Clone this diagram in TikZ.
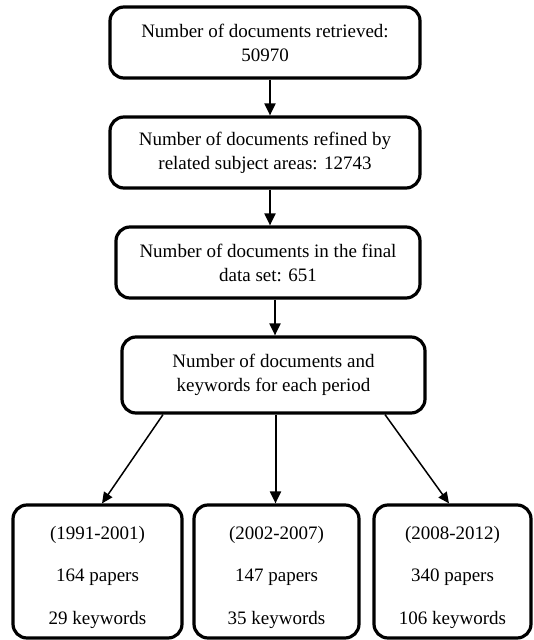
\documentclass[tikz,border=0pt]{standalone}
\usepackage{fontspec}
\setmainfont{Liberation Serif}
\usetikzlibrary{arrows.meta}
\tikzset{
  box/.style={draw=black, line width=3.2pt, rounded corners=14pt, fill=white,
    align=center, inner sep=0pt, font=\fontsize{19}{24}\selectfont},
  pbox/.style={box, minimum width=#1, minimum height=133pt,
    font=\fontsize{19}{42.5}\selectfont},
  thick arrow/.style={line width=2pt, -{Triangle[length=12pt,width=11pt]}},
  thin arrow/.style={line width=1.5pt, -{Triangle[length=11pt,width=10pt]}}
}
\begin{document}
\begin{tikzpicture}[x=1pt,y=-1pt]
\useasboundingbox (0,0) rectangle (534,640);
\node[box, minimum width=310pt, minimum height=71pt] (b1) at (265,42.5)
  {Number of documents retrieved:\\ 50970};
\node[box, minimum width=310pt, minimum height=71pt] (b2) at (265,152.5)
  {Number of documents refined by\\ related subject areas: 12743};
\node[box, minimum width=304pt, minimum height=71pt] (b3) at (268,262.5)
  {Number of documents in the final\\ data set: 651};
\node[box, minimum width=303pt, minimum height=76pt] (b4) at (273.5,375)
  {Number of documents and\\ keywords for each period};
\node[pbox=169pt] (pa) at (97.5,571.5)
  {\rule{0pt}{25pt}(1991-2001)\\ 164 papers\\ 29 keywords};
\node[pbox=165pt] (pb) at (276.5,571.5)
  {\rule{0pt}{25pt}(2002-2007)\\ 147 papers\\ 35 keywords};
\node[pbox=157pt] (pc) at (452.5,571.5)
  {\rule{0pt}{25pt}(2008-2012)\\ 340 papers\\ 106 keywords};
\draw[thick arrow] ([xshift=5pt]b1.south) -- ([xshift=5pt]b1.south |- b2.north);
\draw[thick arrow] ([xshift=5pt]b2.south) -- ([xshift=5pt]b2.south |- b3.north);
\draw[thick arrow] ([xshift=7pt]b3.south) -- ([xshift=7pt]b3.south |- b4.north);
\draw[thin arrow] ([xshift=-110.5pt]b4.south) -- ([xshift=4.5pt]pa.north);
\draw[thick arrow] ([xshift=2pt]b4.south) -- ([xshift=2pt]b4.south |- pb.north);
\draw[thin arrow] ([xshift=111.5pt]b4.south) -- ([xshift=-3.5pt]pc.north);
\end{tikzpicture}
\end{document}
